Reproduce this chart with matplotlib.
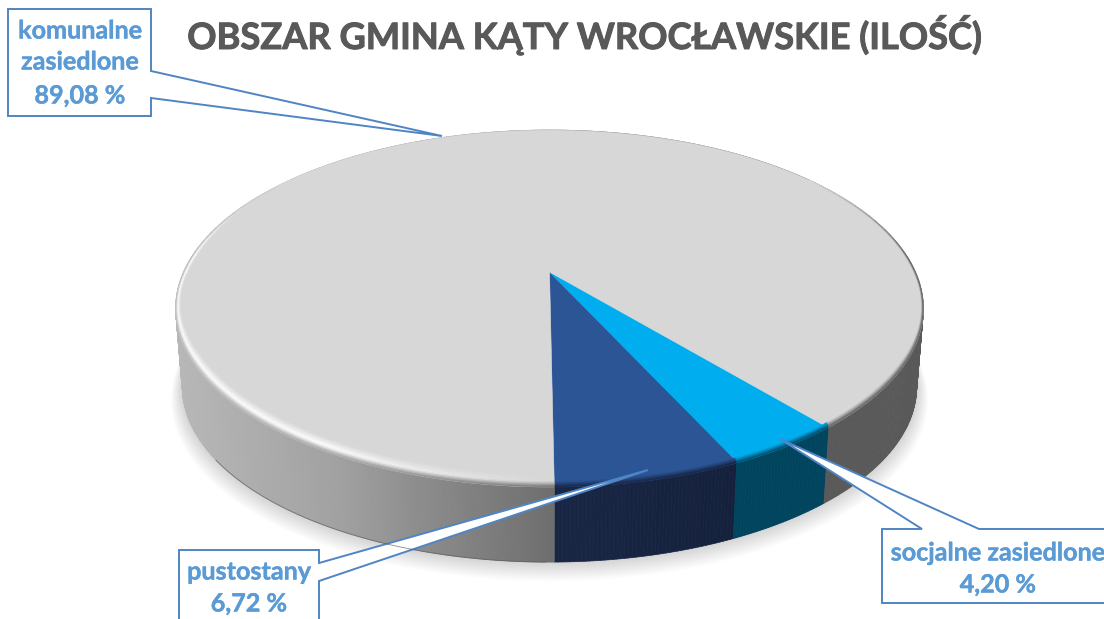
import matplotlib
matplotlib.use('Agg')
import matplotlib.pyplot as plt
import matplotlib.patheffects as pe
from matplotlib.collections import PolyCollection
from matplotlib.colors import to_rgb
from matplotlib.patches import Polygon
import numpy as np

plt.rcParams['font.family'] = ['Lato', 'DejaVu Sans']

title = 'OBSZAR GMINA KĄTY WROCŁAWSKIE (ILOŚĆ)'
names = ['pustostany', 'socjalne zasiedlone', 'komunalne zasiedlone']
values = [6.72, 4.20, 89.08]
value_labels = ['6,72 %', '4,20 %', '89,08 %']
top_colors = ['#2c5596', '#00aeef', '#d7d7d7']
side_colors = ['#16233f', '#00445e', '#595959']

# perspective of the pie, in pixels
x0, y0 = 549.5, 272
A, B, P = 171, 366, -0.2045
bottom_y0, bottom_s = 351, 0.982
start = 0.6
label_color = '#5b9bd5'
border = '#4f85c4'

angles = np.cumsum([0] + values) / sum(values) * 360 + start


def project(phi, r=1.0, s=1.0, cy=y0):
    # phi is in degrees from the front of the pie, going right
    u = r * np.sin(np.radians(phi))
    v = r * np.cos(np.radians(phi))
    w = 1 + P * v
    return x0 + s * B * u / w, cy + s * A * v / w


def slice_of(phi):
    return min(np.searchsorted(angles, (phi - start) % 360 + start, side='right') - 1, 2)


def side_color(phi, x):
    i = slice_of(phi)
    if i == 2 and x < x0 + 10:
        g = np.interp(x, [175, 340, 420, 555], [0.72, 0.63, 0.55, 0.43])
        return (g, g, g)
    if i == 0:
        k = np.interp(x, [555, 735], [1.1, 0.95])
        return tuple(np.clip(np.array(to_rgb(side_colors[0])) * k, 0, 1))
    return to_rgb(side_colors[i])


fig = plt.figure(figsize=(11.04, 6.19), dpi=100)
ax = fig.add_axes([0, 0, 1, 1])
ax.set_xlim(0, 1104)
ax.set_ylim(619, 0)
ax.axis('off')

phis = np.arange(start, start + 360, 0.5)
full = np.append(phis, phis[0] + 360)

# soft shadow under the pie
for k in range(1, 15):
    sx, sy = project(full, s=bottom_s * (1 + k * 0.0022), cy=bottom_y0 + k * 0.9)
    ax.add_patch(Polygon(np.c_[sx, sy], fc='k', ec='none', alpha=0.013))

# side wall
quads, cols = [], []
for a in phis:
    b = a + 0.5
    x1, y1 = project(a)
    x2, y2 = project(b)
    x3, y3 = project(b, s=bottom_s, cy=bottom_y0)
    x4, y4 = project(a, s=bottom_s, cy=bottom_y0)
    quads.append([(x1, y1), (x2, y2), (x3, y3), (x4, y4)])
    cols.append(side_color(a + 0.25, (x1 + x2) / 2))
ax.add_collection(PolyCollection(quads, facecolors=cols, edgecolors=cols, linewidths=0.5))

# thin dark line on the lower left of the wall
low = np.arange(305, 360, 0.5)
lx, ly = project(low, s=bottom_s, cy=bottom_y0)
ax.plot(lx, ly, color='#555555', lw=0.7, alpha=0.6)

# top face
for i in range(3):
    arc = np.linspace(angles[i], angles[i + 1], 300)
    ax_, ay_ = project(arc)
    pts = np.vstack([[x0, y0], np.c_[ax_, ay_]])
    ax.add_patch(Polygon(pts, fc=top_colors[i], ec=top_colors[i], lw=0.4))

# bevel along the rim
ts = np.linspace(0, 1, 11)
depth = 10
quads, cols = [], []
for a in phis:
    v = np.cos(np.radians(a + 0.25))
    fade = np.clip((v + 0.6) / 0.5, 0, 1)
    if fade <= 0:
        continue
    i = slice_of(a + 0.25)
    face = np.array(to_rgb(top_colors[i]))
    left = 360 - ((a + 0.25) % 360)
    h = np.interp(left, [0, 30, 100, 125], [0, 1, 1, 0]) if i == 2 else 0
    mid = face * (1 - h) + h
    xm, _ = project(a + 0.25)
    end = np.array(side_color(a + 0.25, xm))
    for t1, t2 in zip(ts[:-1], ts[1:]):
        tm = (t1 + t2) / 2
        if tm < 0.6:
            # nothing to shade without a highlight, and it would spill over the slice edges
            if h == 0:
                continue
            c = face + (mid - face) * tm / 0.6
        else:
            c = mid + (end - mid) * (tm - 0.6) / 0.4
        c = face + (c - face) * fade
        pts = []
        for ang, t in [(a, t1), (a + 0.5, t1), (a + 0.5, t2), (a, t2)]:
            px, py = project(ang, r=0.987 + 0.013 * t)
            shift = depth * np.clip(np.cos(np.radians(ang)) / 0.5, 0, 1)
            pts.append((px, py - (1 - t) * shift))
        quads.append(pts)
        cols.append(tuple(c))
ax.add_collection(PolyCollection(quads, facecolors=cols, edgecolors=cols, linewidths=0.3))

# callouts
callouts = [
    [(8, 9), (151, 9), (151, 71), (442, 136), (151, 98), (151, 116), (8, 116)],
    [(179, 550), (319, 550), (319, 563), (648, 470), (319, 581), (319, 640), (179, 640)],
    [(882, 529), (922, 529), (780, 439), (979, 529), (1120, 529), (1120, 603), (882, 603)],
]
for c in callouts:
    ax.add_patch(Polygon(c, fc='white', ec=border, lw=1.4, joinstyle='miter'))

fs = 18.1
thick = [pe.withStroke(linewidth=0.3, foreground=label_color)]
label_pos = [
    (80, 31, names[2].split()[0]),
    (80, 62, names[2].split()[1]),
    (80, 96, value_labels[2]),
    (249, 572, names[0]),
    (249, 604, value_labels[0]),
    (998, 553, names[1]),
    (998, 585, value_labels[1]),
]
for lx_, ly_, s in label_pos:
    ax.text(lx_, ly_, s, color=label_color, fontsize=fs, weight='bold', ha='center', va='center',
            path_effects=thick)

ax.text(584, 35, title, color='#595959', fontsize=26.1, weight='bold', ha='center', va='center',
        path_effects=[pe.withStroke(linewidth=0.7, foreground='#595959')])

fig.savefig('out.png', dpi=100)
